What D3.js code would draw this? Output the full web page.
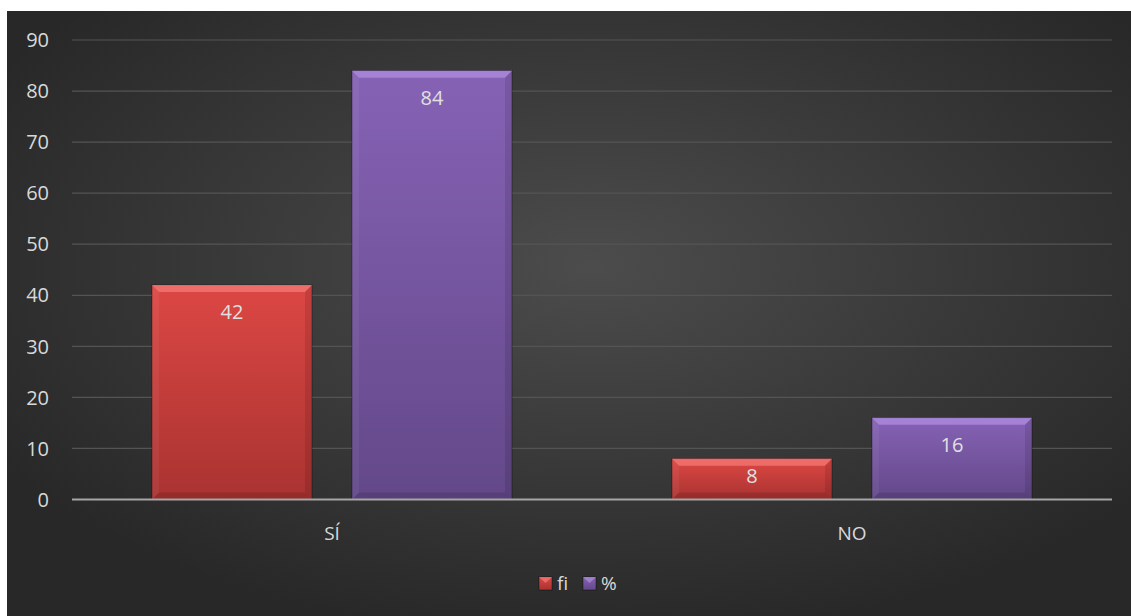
<!DOCTYPE html>
<html><head><meta charset="utf-8">
<script src="https://cdn.jsdelivr.net/npm/d3@7"></script>
<style>body{margin:0;background:#fff;}svg{display:block;font-family:"Open Sans","Noto Sans",sans-serif;}</style>
</head><body>
<svg id="c" width="1131" height="616"></svg>
<script>
const categories = ["SÍ", "NO"];
const seriesNames = ["fi", "%"];
const fiValues = [42, 8];
const pctValues = [84, 16];
const yTicks = [0, 10, 20, 30, 40, 50, 60, 70, 80, 90];

(function(){
const svg = d3.select("#c");
const defs = svg.append("defs");

const bg = defs.append("radialGradient").attr("id","bg").attr("cx","0.52").attr("cy","0.42").attr("r","0.62");
bg.append("stop").attr("offset","0").attr("stop-color","#4c4c4c");
bg.append("stop").attr("offset","1").attr("stop-color","#282828");
svg.append("rect").attr("x",7).attr("y",11).attr("width",1124).attr("height",605).attr("fill","url(#bg)");

const colors = {fi:["#dc4744","#a93331"], "%":["#8662b5","#634889"]};
const hi = {fi:"#f47a76", "%":"#b08ee0"};
Object.entries(colors).forEach(([k,c],i)=>{
  const g = defs.append("linearGradient").attr("id","g"+i).attr("x1",0).attr("x2",0).attr("y1",0).attr("y2",1);
  g.append("stop").attr("offset","0").attr("stop-color",c[0]);
  g.append("stop").attr("offset","1").attr("stop-color",c[1]);
});

const pLeft = 72, pRight = 1112, pTop = 40, pBottom = 499.5;
const x0 = d3.scaleBand().domain(categories).range([pLeft,pRight]).paddingInner(0).paddingOuter(0);
const x1 = d3.scaleBand().domain(seriesNames).range([80, 440]).paddingInner(0.2).paddingOuter(0);
const y = d3.scaleLinear().domain([0,90]).range([pBottom, pTop]);

svg.append("g").selectAll("line").data(yTicks.filter(d=>d>0)).join("line")
  .attr("x1",pLeft).attr("x2",pRight).attr("y1",d=>y(d)).attr("y2",d=>y(d))
  .attr("stroke","#545454").attr("stroke-width",1.2);

svg.append("g").selectAll("text").data(yTicks).join("text")
  .attr("x",49).attr("y",d=>y(d)).attr("dy","0.36em").attr("text-anchor","end")
  .attr("fill","#d9d9d9").attr("font-size",20).text(d=>d);

const data = categories.map((c,i)=>({cat:c, vals:[{s:"fi",v:fiValues[i],gi:0},{s:"%",v:pctValues[i],gi:1}]}));

const groups = svg.append("g").selectAll("g").data(data).join("g")
  .attr("transform",d=>`translate(${x0(d.cat)},0)`);

const bars = groups.selectAll("g.bar").data(d=>d.vals).join("g").attr("class","bar");
const b = 7;
bars.append("rect")
  .attr("x",d=>x1(d.s)).attr("width",x1.bandwidth())
  .attr("y",d=>y(d.v)).attr("height",d=>pBottom-y(d.v))
  .attr("fill",d=>`url(#g${d.gi})`).attr("stroke","rgba(0,0,0,0.35)").attr("stroke-width",1);
bars.append("path")
  .attr("d",d=>{const xa=x1(d.s), xb=xa+x1.bandwidth(), yt=y(d.v);
    return `M${xa},${yt}L${xb},${yt}L${xb-b},${yt+b}L${xa+b},${yt+b}Z`;})
  .attr("fill",d=>hi[d.s]).attr("opacity",0.75);
bars.append("path")
  .attr("d",d=>{const xa=x1(d.s), yt=y(d.v);
    return `M${xa},${yt}L${xa+b},${yt+b}L${xa+b},${pBottom-b}L${xa},${pBottom}Z`;})
  .attr("fill","rgba(255,255,255,0.05)");
bars.append("path")
  .attr("d",d=>{const xb=x1(d.s)+x1.bandwidth(), yt=y(d.v);
    return `M${xb},${yt}L${xb-b},${yt+b}L${xb-b},${pBottom-b}L${xb},${pBottom}Z`;})
  .attr("fill","rgba(0,0,0,0.1)");
bars.append("path")
  .attr("d",d=>{const xa=x1(d.s), xb=xa+x1.bandwidth();
    return `M${xa},${pBottom}L${xb},${pBottom}L${xb-b},${pBottom-b}L${xa+b},${pBottom-b}Z`;})
  .attr("fill","rgba(0,0,0,0.12)");
bars.append("text")
  .attr("x",d=>x1(d.s)+x1.bandwidth()/2)
  .attr("y",d=>Math.min(y(d.v)+34, (y(d.v)+pBottom)/2+4))
  .attr("text-anchor","middle").attr("fill","#e0e0e0").attr("font-size",20).text(d=>d.v);

svg.append("line").attr("x1",pLeft).attr("x2",pRight).attr("y1",pBottom).attr("y2",pBottom)
  .attr("stroke","#a6a6a6").attr("stroke-width",2);

svg.append("g").selectAll("text").data(categories).join("text")
  .attr("x",d=>x0(d)+x0.bandwidth()/2).attr("y",533).attr("dy","0.36em").attr("text-anchor","middle")
  .attr("fill","#d9d9d9").attr("font-size",19).text(d=>d);

const legend = [{s:"fi",x:539,gi:0},{s:"%",x:583,gi:1}];
const lg = svg.append("g").selectAll("g").data(legend).join("g").attr("transform",d=>`translate(${d.x},577)`);
lg.append("rect").attr("width",13).attr("height",13).attr("fill",d=>`url(#g${d.gi})`).attr("stroke","rgba(0,0,0,0.4)");
lg.append("path").attr("d","M0,0L13,0L6.5,6Z").attr("fill",d=>hi[d.s]).attr("opacity",0.7);
lg.append("text").attr("x",18).attr("y",6.5).attr("dy","0.36em").attr("fill","#d9d9d9").attr("font-size",19).text(d=>d.s);
})();
</script>
</body></html>
